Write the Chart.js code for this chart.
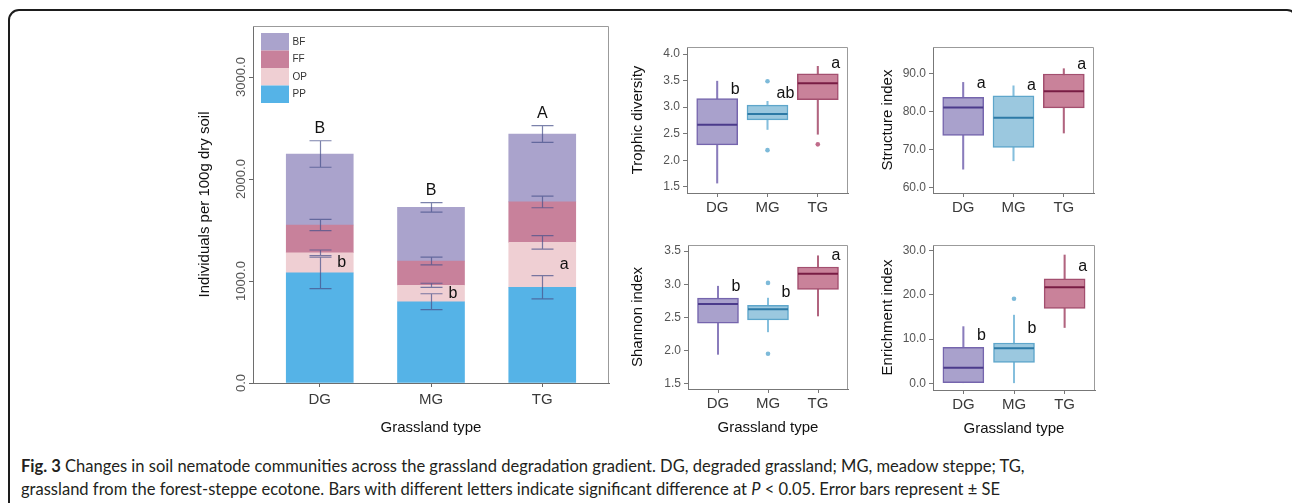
<!DOCTYPE html>
<html>
<head>
<meta charset="utf-8">
<script src="https://cdn.jsdelivr.net/npm/chart.js@4.4.1/dist/chart.umd.min.js"></script>
<style>
  html, body { margin: 0; padding: 0; background: #fff; width: 1292px; height: 503px; overflow: hidden; }
  #frame { position: absolute; left: 8px; top: 9px; width: 1290px; height: 530px; border: 2px solid #1d1d1d; border-radius: 11px; box-sizing: border-box; }
  canvas { position: absolute; }
  #caption { position: absolute; left: 21px; top: 455px; font-family: Lato, 'Open Sans', sans-serif; color: #231f20; line-height: 23px; white-space: nowrap; font-size: 17px; }
  #caption div { white-space: nowrap; }
  #caption span { display: inline-block; }
</style>
</head>
<body>
<div id="frame"></div>
<canvas id="stack" width="440" height="430" style="left:180px;top:15px"></canvas>
<canvas id="trophic" width="245" height="198" style="left:625px;top:25px"></canvas>
<canvas id="structure" width="245" height="198" style="left:871px;top:25px"></canvas>
<canvas id="shannon" width="244" height="216" style="left:626px;top:223px"></canvas>
<canvas id="enrichment" width="246" height="217" style="left:871px;top:223px"></canvas>
<div id="caption">
  <div><span id="line1"><b>Fig. 3</b> Changes in soil nematode communities across the grassland degradation gradient. DG, degraded grassland; MG, meadow steppe; TG,</span></div>
  <div><span>grassland from the forest-steppe ecotone. Bars with different letters indicate significant difference at <i>P</i> &lt; 0.05. Error bars represent ± SE</span></div>
</div>
<script>
// ---- Nematode abundance by trophic group (mean individuals per 100 g dry soil) ----
const groups = ['DG', 'MG', 'TG'];
const guilds = ['PP', 'OP', 'FF', 'BF'];
const ppMean = [1080, 797, 938];
const opMean = [197, 161, 441];
const ffMean = [272, 238, 396];
const bfMean = [696, 526, 666];
const ppSE = [155, 78, 114];
const opSE = [27, 20, 66];
const ffSE = [56, 38, 57];
const bfSE = [130, 47, 82];
const totalLetters = ['B', 'B', 'A'];
const opLetters = ['b', 'b', 'a'];
const abundanceTicks = [0, 1000, 2000, 3000];

// ---- Community indices: five-number summaries [min, q1, median, q3, max] ----
const trophicStats = [[1.57, 2.29, 2.67, 3.16, 3.49], [2.58, 2.76, 2.87, 3.04, 3.11], [2.49, 3.14, 3.45, 3.63, 3.77]];
const trophicOutliers = [[], [3.49, 2.19], [2.30]];
const trophicLetters = ['b', 'ab', 'a'];
const trophicLetterAt = [3.33, 3.25, 3.83];
const trophicTicks = [1.5, 2.0, 2.5, 3.0, 3.5, 4.0];

const structureStats = [[64.8, 73.7, 81.0, 83.7, 87.6], [67.0, 70.5, 78.3, 84.1, 86.7], [74.3, 80.9, 85.3, 89.8, 91.2]];
const structureOutliers = [[], [], []];
const structureLetters = ['a', 'a', 'a'];
const structureLetterAt = [87.4, 86.7, 92.4];
const structureTicks = [60, 70, 80, 90];

const shannonStats = [[1.94, 2.41, 2.70, 2.79, 2.97], [2.28, 2.46, 2.62, 2.68, 2.79], [2.52, 2.92, 3.16, 3.26, 3.43]];
const shannonOutliers = [[], [3.02, 1.95], []];
const shannonLetters = ['b', 'b', 'a'];
const shannonLetterAt = [2.96, 2.87, 3.43];
const shannonTicks = [1.5, 2.0, 2.5, 3.0, 3.5];

const enrichmentStats = [[0.0, 0.0, 3.5, 8.1, 12.8], [0.1, 4.7, 7.9, 9.1, 15.4], [12.6, 16.9, 21.7, 23.6, 29.0]];
const enrichmentOutliers = [[], [19.1], []];
const enrichmentLetters = ['b', 'b', 'a'];
const enrichmentLetterAt = [10.7, 12.4, 26.4];
const enrichmentTicks = [0, 10, 20, 30];

// ---- shared styling ----
const sansFamily = "'Liberation Sans', Arial, Helvetica, sans-serif";
Chart.defaults.font.family = sansFamily;
Chart.defaults.animation = false;
Chart.defaults.responsive = false;
Chart.defaults.plugins.legend.display = false;
Chart.defaults.plugins.tooltip.enabled = false;

const guildColors = { PP: '#55b3e7', OP: '#efcfd3', FF: '#c8819b', BF: '#aaa3cc' };
const boxFill = ['#a9a1cc', '#9bc8df', '#c9829a'];
const boxEdge = ['#7565ad', '#5ea6cb', '#a34f6f'];
const boxMedian = ['#4b3b8b', '#2d7aa6', '#781c44'];
const boxWhisker = ['#8a7cbc', '#85bfdd', '#b1647f'];
const outlierColor = ['#8a7cbc', '#7dbad9', '#c06b8a'];

// top and right sides of the plot box (left and bottom come from the axis borders)
const plotFrame = {
  id: 'plotFrame',
  afterDatasetsDraw(chart) {
    const { ctx, chartArea: a } = chart;
    ctx.save();
    ctx.strokeStyle = '#9b9b9b';
    ctx.lineWidth = 1;
    ctx.beginPath();
    ctx.moveTo(a.left, a.top + 0.5);
    ctx.lineTo(a.right - 0.5, a.top + 0.5);
    ctx.lineTo(a.right - 0.5, a.bottom);
    ctx.stroke();
    ctx.restore();
  }
};

function fixedTicks(values) {
  return axis => { axis.ticks = values.map(v => ({ value: v })); };
}

// ---------------- stacked abundance chart ----------------
const meansByGuild = { PP: ppMean, OP: opMean, FF: ffMean, BF: bfMean };
const seByGuild = { PP: ppSE, OP: opSE, FF: ffSE, BF: bfSE };

const errorBars = {
  id: 'errorBars',
  afterDatasetsDraw(chart) {
    const { ctx, scales: { x, y } } = chart;
    const cum = groups.map(() => 0);
    ctx.save();
    ctx.strokeStyle = 'rgba(72, 82, 138, 0.72)';
    ctx.lineWidth = 1.2;
    chart.data.datasets.forEach(ds => {
      ds.data.forEach((pt, i) => {
        cum[i] += pt.y;
        const se = ds.errors[i];
        const px = Math.round(x.getPixelForValue(pt.x)) + 0.5;
        const yTop = y.getPixelForValue(cum[i] + se);
        const yBot = y.getPixelForValue(cum[i] - se);
        ctx.beginPath();
        ctx.moveTo(px, yTop); ctx.lineTo(px, yBot);
        ctx.moveTo(px - 11, yTop); ctx.lineTo(px + 11, yTop);
        ctx.moveTo(px - 11, yBot); ctx.lineTo(px + 11, yBot);
        ctx.stroke();
      });
    });
    ctx.restore();
  }
};

const stackLetters = {
  id: 'stackLetters',
  afterDatasetsDraw(chart) {
    const { ctx, scales: { x, y } } = chart;
    ctx.save();
    ctx.fillStyle = '#111';
    ctx.font = '16px ' + sansFamily;
    groups.forEach((g, i) => {
      const total = ppMean[i] + opMean[i] + ffMean[i] + bfMean[i];
      ctx.textAlign = 'center';
      ctx.textBaseline = 'alphabetic';
      ctx.fillText(totalLetters[i], x.getPixelForValue(i), y.getPixelForValue(total + bfSE[i]) - 8);
      const opMid = ppMean[i] + opMean[i] / 2;
      ctx.textBaseline = 'middle';
      ctx.fillText(opLetters[i], x.getPixelForValue(i) + 22, y.getPixelForValue(opMid));
    });
    ctx.restore();
  }
};

const guildLegend = {
  id: 'guildLegend',
  afterDatasetsDraw(chart) {
    const { ctx, chartArea: a } = chart;
    const items = chart.data.datasets.slice().reverse();
    const x0 = a.left + 8, y0 = a.top + 7, w = 28, h = 17.5;
    ctx.save();
    ctx.font = '10px ' + sansFamily;
    ctx.textBaseline = 'middle';
    ctx.textAlign = 'left';
    items.forEach((ds, k) => {
      ctx.fillStyle = ds.backgroundColor;
      ctx.fillRect(x0, y0 + k * h, w, h);
      ctx.fillStyle = '#333';
      ctx.fillText(ds.label, x0 + w + 3.5, y0 + k * h + h / 2);
    });
    ctx.restore();
  }
};

// tick label offset for the rotated y labels (centred 11.5 px left of the axis)
const measureCtx = document.createElement('canvas').getContext('2d');
measureCtx.font = '13px ' + sansFamily;
const widestTick = Math.max(...abundanceTicks.map(v => measureCtx.measureText(v.toFixed(1)).width));
const rotatedPad = 11.5 - 4 - widestTick / 2;

new Chart(document.getElementById('stack'), {
  type: 'bar',
  data: {
    datasets: guilds.map(gu => ({
      label: gu,
      data: meansByGuild[gu].map((v, i) => ({ x: i, y: v })),
      errors: seByGuild[gu],
      backgroundColor: guildColors[gu],
      borderWidth: 0,
      barThickness: 67
    }))
  },
  options: {
    layout: { padding: { left: 0, top: 11, right: 11, bottom: 0 } },
    scales: {
      x: {
        type: 'linear', stacked: true, min: -0.6, max: 2.6, offset: false,
        afterBuildTicks: fixedTicks([0, 1, 2]),
        afterFit: s => { s.height = 62; },
        grid: { offset: false, drawOnChartArea: false, drawTicks: true, tickLength: 4, color: '#666' },
        border: { display: true, color: '#6e6e6e', width: 1 },
        ticks: { callback: v => groups[v], font: { size: 15 }, color: '#3a3a3a', padding: 4, maxRotation: 0 },
        title: { display: true, text: 'Grassland type', font: { size: 15 }, color: '#111', padding: { top: 0, bottom: 8.3 } }
      },
      y: {
        type: 'linear', stacked: true, min: 0, max: 3500,
        afterBuildTicks: fixedTicks(abundanceTicks),
        afterFit: s => { s.width = 73; },
        grid: { drawOnChartArea: false, drawTicks: true, tickLength: 4, color: '#666' },
        border: { display: true, color: '#6e6e6e', width: 1 },
        ticks: { callback: v => v.toFixed(1), font: { size: 13 }, color: '#555', minRotation: 90, maxRotation: 90, crossAlign: 'center', padding: rotatedPad },
        title: { display: true, text: 'Individuals per 100g dry soil', font: { size: 15 }, color: '#111', padding: { top: 16, bottom: 0 } }
      }
    }
  },
  plugins: [plotFrame, errorBars, stackLetters, guildLegend]
});

// ---------------- box-and-whisker panels ----------------
function boxPanel(canvasId, stats, outliers, letters, letterAt, ticks, yMin, yMax, yTitle, titlePadTop, xTitle) {
  const outlierPoints = [];
  outliers.forEach((vals, i) => vals.forEach(v => outlierPoints.push({ x: i, y: v })));

  const boxLetters = {
    id: 'boxLetters',
    afterDatasetsDraw(chart) {
      const { ctx, scales: { x, y } } = chart;
      ctx.save();
      ctx.fillStyle = '#111';
      ctx.font = '16px ' + sansFamily;
      ctx.textAlign = 'center';
      ctx.textBaseline = 'middle';
      letters.forEach((t, i) => ctx.fillText(t, x.getPixelForValue(i) + 18, y.getPixelForValue(letterAt[i])));
      ctx.restore();
    }
  };

  return new Chart(document.getElementById(canvasId), {
    type: 'bar',
    data: {
      datasets: [
        {
          label: 'whisker', order: 4, grouped: false,
          data: stats.map((s, i) => ({ x: i, y: [s[0], s[4]] })),
          backgroundColor: boxWhisker, borderWidth: 0, barThickness: 1.4
        },
        {
          label: 'box', order: 3, grouped: false,
          data: stats.map((s, i) => ({ x: i, y: [s[1], s[3]] })),
          backgroundColor: boxFill, borderColor: boxEdge, borderWidth: 1.5, borderSkipped: false, barThickness: 41
        },
        {
          type: 'line', label: 'median', order: 2, showLine: false,
          data: stats.map((s, i) => ({ x: i, y: s[2] })),
          pointStyle: 'line', pointRadius: 20, pointBorderWidth: 2, pointBorderColor: boxMedian
        },
        {
          type: 'line', label: 'outlier', order: 1, showLine: false,
          data: outlierPoints,
          pointStyle: 'circle', pointRadius: 2.3, pointBorderWidth: 0,
          pointBackgroundColor: c => outlierColor[c.raw ? c.raw.x : 0]
        }
      ]
    },
    options: {
      layout: { padding: { left: 0, top: 10, right: 10, bottom: 0 } },
      scales: {
        x: {
          type: 'linear', min: -0.6, max: 2.6, offset: false,
          afterBuildTicks: fixedTicks([0, 1, 2]),
          afterFit: s => { s.height = xTitle ? 50 : 30; },
          grid: { offset: false, drawOnChartArea: false, drawTicks: true, tickLength: 4, color: '#777' },
          border: { display: true, color: '#777', width: 1 },
          ticks: { callback: v => groups[v], font: { size: 15 }, color: '#3a3a3a', padding: 2, maxRotation: 0 },
          title: { display: !!xTitle, text: 'Grassland type', font: { size: 15 }, color: '#111', padding: { top: 0, bottom: 2 } }
        },
        y: {
          type: 'linear', min: yMin, max: yMax,
          afterBuildTicks: fixedTicks(ticks),
          afterFit: s => { s.width = 62; },
          grid: { drawOnChartArea: false, drawTicks: true, tickLength: 4, color: '#777' },
          border: { display: true, color: '#777', width: 1 },
          ticks: { callback: v => v.toFixed(1), font: { size: 12 }, color: '#555', padding: 3 },
          title: { display: true, text: yTitle, font: { size: 15 }, color: '#111', padding: { top: titlePadTop, bottom: 0 } }
        }
      }
    },
    plugins: [plotFrame, boxLetters]
  });
}

boxPanel('trophic', trophicStats, trophicOutliers, trophicLetters, trophicLetterAt, trophicTicks, 1.383, 4.134, 'Trophic diversity', 4, false);
boxPanel('structure', structureStats, structureOutliers, structureLetters, structureLetterAt, structureTicks, 58.54, 96.9, 'Structure index', 8.3, false);
boxPanel('shannon', shannonStats, shannonOutliers, shannonLetters, shannonLetterAt, shannonTicks, 1.416, 3.593, 'Shannon index', 3.3, true);
boxPanel('enrichment', enrichmentStats, enrichmentOutliers, enrichmentLetters, enrichmentLetterAt, enrichmentTicks, -1.53, 31.26, 'Enrichment index', 8.3, true);

// caption: size the type so the first line spans the same measure as the figure text block
(function fitCaption() {
  const cap = document.getElementById('caption');
  const line1 = document.getElementById('line1');
  const target = 1004;
  let size = 17;
  cap.style.fontSize = size + 'px';
  const w = line1.getBoundingClientRect().width;
  if (w > 0) { size = size * target / w; cap.style.fontSize = size.toFixed(2) + 'px'; }
})();
</script>
</body>
</html>
